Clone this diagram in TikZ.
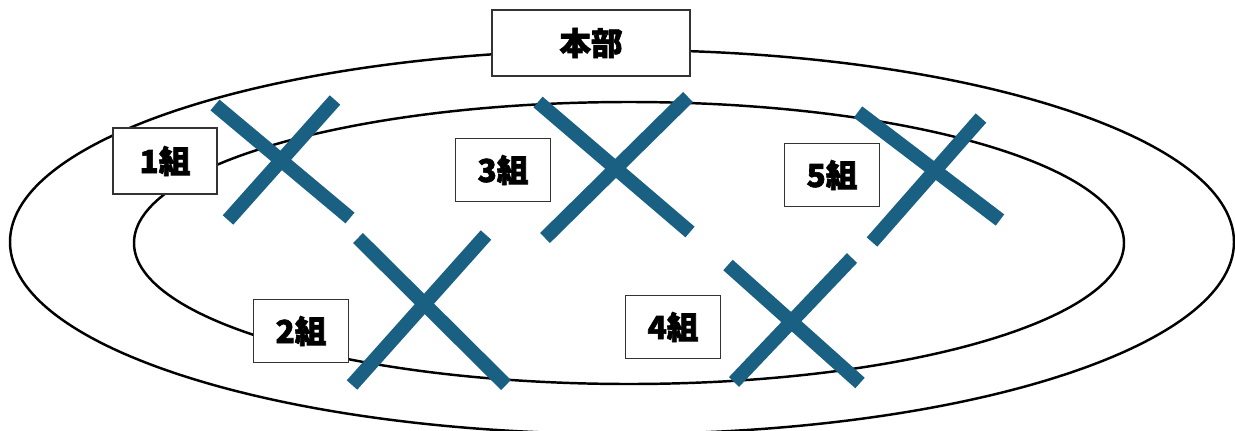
\documentclass[tikz,border=0pt]{standalone}
\usepackage{fontspec}
\newfontfamily\jpfont{Noto Sans CJK JP}[BoldFeatures={FakeBold=2}]
\definecolor{xblue}{RGB}{25,96,130}

\begin{document}
\begin{tikzpicture}[x=0.02cm,y=-0.02cm,
  box/.style={draw=black!80,line width=0.8pt,fill=white,
    minimum width=1.9cm,minimum height=1.26cm,
    font=\jpfont\bfseries\fontsize{18}{20}\selectfont},
  cross/.style={xblue,line width=8pt}]
\useasboundingbox (0,0) rectangle (1235,430);
\draw[line width=1.4pt] (622,242) ellipse [x radius=612, y radius=192]; % outer
\draw[line width=1.4pt] (629,243) ellipse [x radius=495, y radius=141]; % inner
\foreach \ax/\ay/\bx/\by in {215/105/350/218, 335/100/228/220,
  358/238/506/385, 486/235/352/385, 538/102/690/232, 688/97/545/238,
  728/265/860/383, 852/258/734/382, 858/112/1000/220, 981/118/872/242}
  \draw[cross] (\ax,\ay) -- (\bx,\by);
\node[box,minimum width=3.96cm,minimum height=1.32cm] (hq) at (591,43) {本部};
\node[box,minimum width=2.08cm,minimum height=1.32cm] (g1) at (165,161) {1組};
\node[box] (g2) at (301,331) {2組};
\node[box] (g3) at (503,170) {3組};
\node[box] (g4) at (673,327) {4組};
\node[box] (g5) at (832,175) {5組};
\end{tikzpicture}
\end{document}
